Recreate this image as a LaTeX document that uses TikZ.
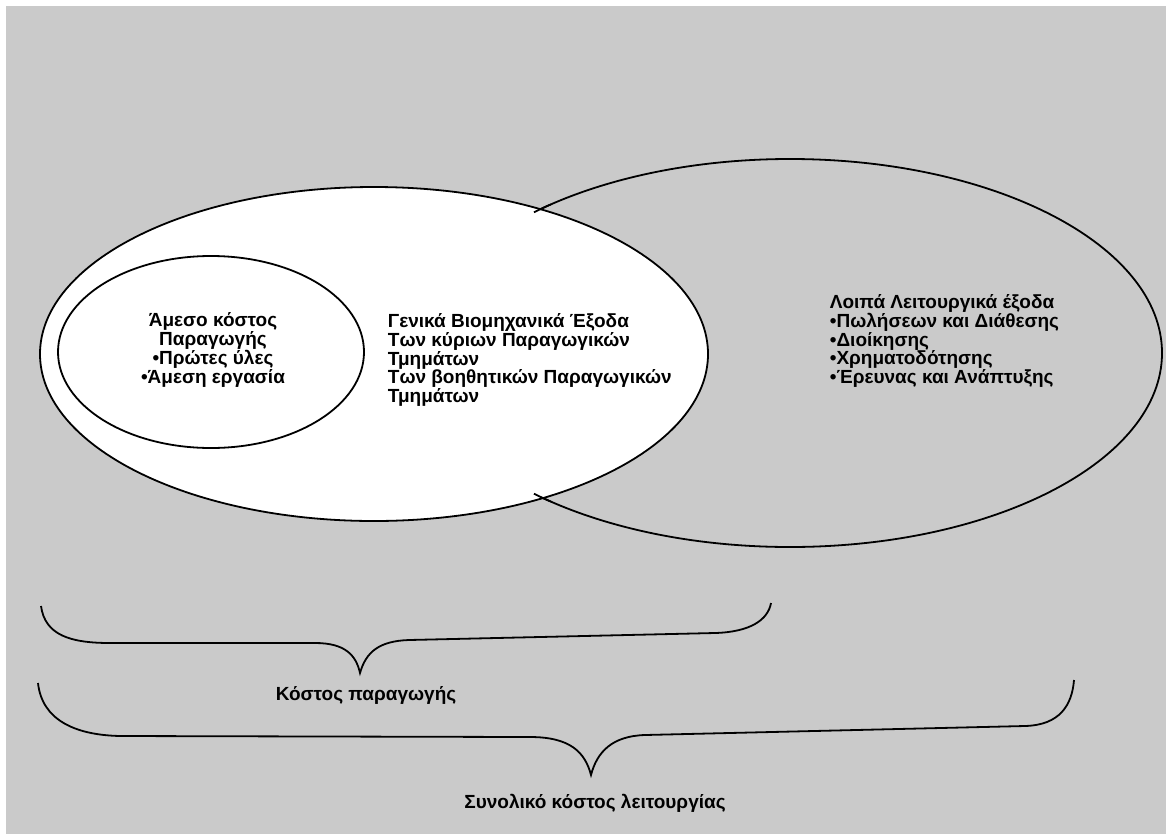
\documentclass[tikz,border=0pt]{standalone}
\usepackage{fontspec}
\setmainfont{Liberation Sans}
\definecolor{bggray}{RGB}{202,202,202}
\begin{document}
\begin{tikzpicture}[x=1pt,y=-1pt,line width=1.8pt,
  lbl/.style={font=\bfseries\fontsize{19}{18.75}\selectfont,inner sep=0pt}]
\useasboundingbox (0,0) rectangle (1174,838);
\fill[white] (0,0) rectangle (1174,838);
\fill[bggray] (6,6) rectangle (1166,834);
% right ellipse (operating expenses)
\draw (790,353) ellipse [x radius=372pt, y radius=194pt];
% big ellipse (production cost)
\draw[fill=white] (374,354) ellipse [x radius=334pt, y radius=167pt];
% small overshoots of the right ellipse
\draw ([shift={(130:372pt and 194pt)}]790,353) arc[start angle=130,end angle=133.5,x radius=372pt,y radius=194pt];
\draw ([shift={(230:372pt and 194pt)}]790,353) arc[start angle=230,end angle=226.5,x radius=372pt,y radius=194pt];
% inner ellipse (direct cost)
\draw[fill=white] (211,352) ellipse [x radius=153pt, y radius=96pt];
% texts
\node[lbl,align=center] (direct) at (213,350) {Άμεσο κόστος\\Παραγωγής\\•Πρώτες ύλες\\•Άμεση εργασία};
\node[lbl,align=left,anchor=west] (overhead) at (387,360) {Γενικά Βιομηχανικά Έξοδα\\Των κύριων Παραγωγικών\\Τμημάτων\\Των βοηθητικών Παραγωγικών\\Τμημάτων};
\node[lbl,align=left,anchor=west] (other) at (829,341) {Λοιπά Λειτουργικά έξοδα\\•Πωλήσεων και Διάθεσης\\•Διοίκησης\\•Χρηματοδότησης\\•Έρευνας και Ανάπτυξης};
% braces
\draw (41,606) .. controls (45,635) and (70,643) .. (110,643) -- (315,643)
  .. controls (345,643) and (356,655) .. (360,673)
  .. controls (366,652) and (379,641) .. (409,640) -- (715,633)
  .. controls (750,632) and (768,620) .. (771,603);
\node[lbl] (prodcost) at (366,695) {Κόστος παραγωγής};
\draw (38,683) .. controls (42,720) and (75,735) .. (120,736) -- (530,737)
  .. controls (570,737) and (585,752) .. (591,775)
  .. controls (597,752) and (612,736) .. (645,735) -- (1025,726)
  .. controls (1060,725) and (1072,705) .. (1074,680);
\node[lbl] (totalcost) at (595,803) {Συνολικό κόστος λειτουργίας};
\end{tikzpicture}
\end{document}
